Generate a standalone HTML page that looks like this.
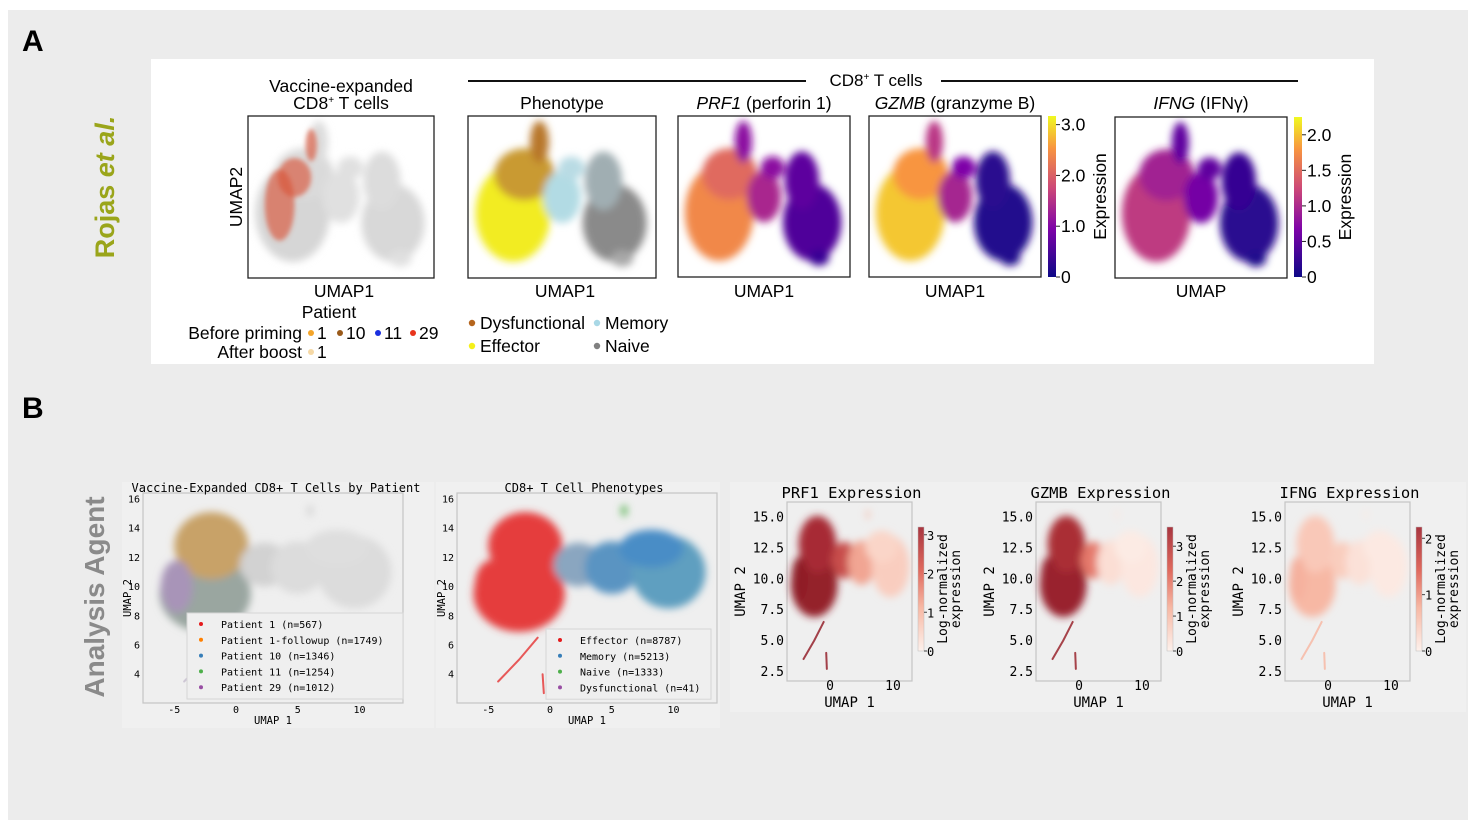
<!DOCTYPE html>
<html><head><meta charset="utf-8"><style>
html,body{margin:0;padding:0;background:#fff;}
svg{display:block;}
.sans{font-family:"Liberation Sans",sans-serif;}
.mono{font-family:"DejaVu Sans Mono","Liberation Mono",monospace;}
</style></head><body>
<svg id="fig" width="1472" height="824" viewBox="0 0 1472 824" xmlns="http://www.w3.org/2000/svg">
<defs>
<filter id="blur" x="-50%" y="-50%" width="200%" height="200%"><feGaussianBlur stdDeviation="4"/></filter>
<filter id="blurS" x="-50%" y="-50%" width="200%" height="200%"><feGaussianBlur stdDeviation="2.5"/></filter>
<linearGradient id="plasma" x1="0" y1="1" x2="0" y2="0">
<stop offset="0" stop-color="#0d0887"/><stop offset="0.3" stop-color="#7e03a8"/><stop offset="0.55" stop-color="#cc4778"/><stop offset="0.8" stop-color="#f89540"/><stop offset="1" stop-color="#f0f921"/></linearGradient>
<linearGradient id="reds" x1="0" y1="1" x2="0" y2="0">
<stop offset="0" stop-color="#fdf1ec"/><stop offset="0.35" stop-color="#f7b8a4"/><stop offset="0.65" stop-color="#e06a5e"/><stop offset="1" stop-color="#a8353f"/></linearGradient>
</defs>
<rect x="8" y="10" width="1460" height="810" fill="#ececec"/>
<rect x="151" y="59" width="1223" height="305" fill="#fff"/>
<text x="22" y="51" class="sans" font-size="30" font-weight="bold">A</text>
<text x="22" y="418" class="sans" font-size="30" font-weight="bold">B</text>
<text transform="translate(114,187) rotate(-90)" text-anchor="middle" class="sans" font-size="27" font-weight="bold" fill="#9aa51a">Rojas <tspan font-style="italic">et al.</tspan></text>
<text transform="translate(104,597) rotate(-90)" text-anchor="middle" class="sans" font-size="28" font-weight="bold" fill="#8a8a8a">Analysis Agent</text>
<rect x="122" y="482" width="312" height="246" fill="#f0f0f0"/>
<rect x="436" y="482" width="284" height="246" fill="#f0f0f0"/>
<rect x="730" y="482" width="736" height="230" fill="#f0f0f0"/>
<line x1="468" y1="81" x2="806" y2="81" stroke="#111" stroke-width="2"/>
<line x1="941" y1="81" x2="1298" y2="81" stroke="#111" stroke-width="2"/>
<text x="876" y="86" text-anchor="middle" class="sans" font-size="17">CD8<tspan font-size="10" dy="-6">+</tspan><tspan dy="6"> T cells</tspan></text>
<g id="layer"></g>
</svg>
<script>
// ---------- data ----------
const aShapeX = [0.24,0.30,0.38,0.50,0.55,0.78,0.72,0.82];
const aShapeY = [0.60,0.36,0.16,0.50,0.32,0.66,0.40,0.88];
const aShapeRX= [0.20,0.16,0.05,0.10,0.07,0.17,0.10,0.06];
const aShapeRY= [0.30,0.16,0.13,0.16,0.07,0.24,0.18,0.05];
const a1Colors = ['#d6d6d6','#dadada','#dcdcdc','#e0e0e0','#e0e0e0','#d8d8d8','#dcdcdc','#e0e0e0'];
const a2Colors = ['#f2ec20','#c99a30','#b8772a','#b2dbe4','#b9dbe4','#8a8a8a','#a0aeb2','#a8a8a8'];
const prf1Vals = [2.2,1.9,0.9,1.2,0.9,0.45,0.55,0.3];
const gzmbVals = [2.8,2.4,1.4,1.2,0.8,0.15,0.2,0.15];
const ifngVals = [1.0,0.8,0.4,0.5,0.4,0.15,0.2,0.1];
const a1Overlay = {x:[0.17,0.25,0.34], y:[0.55,0.38,0.18], rx:[0.08,0.09,0.03], ry:[0.22,0.12,0.1]};
const bShapeX = [-2.5,-2.0,-4.8,2.3,5.0,9.6,8.2,6.0];
const bShapeY = [9.5,12.8,10.0,11.5,11.3,11.0,12.6,15.2];
const bShapeRX= [3.7,3.0,1.3,2.0,2.2,3.0,2.6,0.25];
const bShapeRY= [2.6,2.3,1.8,1.5,1.8,2.5,1.3,0.4];
const b1Colors = ['#9aa6a0','#c8a268','#a894b8','#d2d2d2','#dcdcdc','#dcdcdc','#dedede','#d4d4d4'];
const b2Colors = ['#e53d3d','#e53d3d','#e53d3d','#8aa6c0','#5a94c2','#5f9fc0','#4a8dc6','#5fb65a'];
const bPrf1 = [3.0,2.6,3.1,2.0,1.0,0.5,0.4,0.8];
const bGzmb = [3.2,2.8,3.2,1.6,0.3,0.15,0.1,0.2];
const bIfng = [0.55,0.4,0.6,0.35,0.15,0.08,0.08,0.1];
const tailX = [-1.0,-2.5,-4.2]; const tailY=[6.5,5.0,3.5];
const spikeX = [-0.6,-0.5]; const spikeY=[4.0,2.7];
const b1Ticks=[-5,0,5,10], b1YTicks=[4,6,8,10,12,14,16];
const b3Ticks=[0,10], b3YTicks=[2.5,5.0,7.5,10.0,12.5,15.0];
const b1Legend=['Patient 1 (n=567)','Patient 1-followup (n=1749)','Patient 10 (n=1346)','Patient 11 (n=1254)','Patient 29 (n=1012)'];
const b1LegendColors=['#e41a1c','#ff7f00','#377eb8','#4daf4a','#984ea3'];
const b2Legend=['Effector (n=8787)','Memory (n=5213)','Naive (n=1333)','Dysfunctional (n=41)'];
const b2LegendColors=['#e41a1c','#377eb8','#4daf4a','#984ea3'];

const NS='http://www.w3.org/2000/svg';
const layer=document.getElementById('layer');
function mk(tag,attrs,parent){const e=document.createElementNS(NS,tag);for(const k in attrs)e.setAttribute(k,attrs[k]);(parent||layer).appendChild(e);return e;}
function txt(x,y,s,size,cls,anchor,parent){const t=mk('text',{x:x,y:y,'font-size':size,class:cls,'text-anchor':anchor||'middle'},parent);t.textContent=s;return t;}
function lerp(a,b,t){return a+(b-a)*t;}
function hex(c){return [parseInt(c.slice(1,3),16),parseInt(c.slice(3,5),16),parseInt(c.slice(5,7),16)];}
function cmap(stops,v){v=Math.max(0,Math.min(1,v));const n=stops.length-1;const i=Math.min(n-1,Math.floor(v*n));const t=v*n-i;const a=hex(stops[i]),b=hex(stops[i+1]);return 'rgb('+[0,1,2].map(k=>Math.round(lerp(a[k],b[k],t))).join(',')+')';}
const plasma=['#0d0887','#7e03a8','#cc4778','#f89540','#f0f921'];
const reds=['#fdf1ec','#f7b8a4','#e06a5e','#b03038','#8a1c26'];
const AF=17.5;

function panelA(bx,by,bw,bh,colors,name){
  const g=mk('g',{});
  
  
  mk('rect',{x:bx,y:by,width:bw,height:bh,fill:'#fff'},g);
  const sx=v=>bx+v*bw, sy=v=>by+v*bh;
  const bg=mk('g',{filter:'url(#blur)'},g);
  for(let i=0;i<aShapeX.length;i++){
    const el=mk('ellipse',{cx:sx(aShapeX[i]),cy:sy(aShapeY[i]),rx:aShapeRX[i]*bw,ry:aShapeRY[i]*bh,fill:colors[i]},bg);
    
    
  }
  mk('rect',{x:bx,y:by,width:bw,height:bh,fill:'none',stroke:'#222','stroke-width':1.3},g);
  return {g,sx,sy};
}
const a1=panelA(248,116,186,162,a1Colors,'a1-patient-umap');
const ov=mk('g',{filter:'url(#blurS)'},a1.g);
for(let i=0;i<a1Overlay.x.length;i++){
  const el=mk('ellipse',{cx:a1.sx(a1Overlay.x[i]),cy:a1.sy(a1Overlay.y[i]),rx:a1Overlay.rx[i]*186,ry:a1Overlay.ry[i]*162,fill:'#d9553a',opacity:0.65},ov);
  
  
}
panelA(468,116,188,162,a2Colors,'a2-phenotype-umap');
panelA(678,116,172,161,prf1Vals.map(v=>cmap(plasma,v/3.1)),'a3-prf1-umap');
panelA(869,116,172,161,gzmbVals.map(v=>cmap(plasma,v/3.2)),'a4-gzmb-umap');
panelA(1115,117,172,161,ifngVals.map(v=>cmap(plasma,v/2.2)),'a5-ifng-umap');

txt(341,92,'Vaccine-expanded',AF,'sans');
const t2=txt(341,109,'',AF,'sans'); t2.innerHTML='CD8<tspan font-size="10" dy="-6">+</tspan><tspan dy="6"> T cells</tspan>';


txt(562,109,'Phenotype',AF,'sans');
const t3=txt(764,109,'',AF,'sans');t3.innerHTML='<tspan font-style="italic">PRF1</tspan> (perforin 1)';
const t4=txt(955,109,'',AF,'sans');t4.innerHTML='<tspan font-style="italic">GZMB</tspan> (granzyme B)';
const t5=txt(1201,109,'',AF,'sans');t5.innerHTML='<tspan font-style="italic">IFNG</tspan> (IFNγ)';
const ua=mk('text',{transform:'translate(242,197) rotate(-90)','text-anchor':'middle','font-size':AF,class:'sans'});ua.textContent='UMAP2';


[[344,'UMAP1'],[565,'UMAP1'],[764,'UMAP1'],[955,'UMAP1'],[1201,'UMAP']].forEach(p=>{const t=txt(p[0],297,p[1],AF,'sans');});
function cbarA(x,top,bot,ticks,max,labX,name){
  const g=mk('g',{});
  
  
  mk('rect',{x:x,y:top,width:8,height:bot-top,fill:'url(#plasma)'},g);
  ticks.forEach(v=>{const y=bot-(v/max)*(bot-top);mk('line',{x1:x+8,x2:x+12,y1:y,y2:y,stroke:'#222'},g);txt(x+13,y+6,v===0?'0':v.toFixed(1),AF,'sans','start',g);});
  const l=mk('text',{transform:'translate('+labX+','+((top+bot)/2)+') rotate(-90)','text-anchor':'middle','font-size':AF,class:'sans'},g);l.textContent='Expression';
}
cbarA(1048,116,277,[0,1,2,3],3.17,1106,'a4-colorbar');
cbarA(1294,117,277,[0,0.5,1,1.5,2],2.25,1351,'a5-colorbar');
txt(329,318,'Patient',AF,'sans');
txt(302,339,'Before priming',AF,'sans','end');
txt(302,358,'After boost',AF,'sans','end');
[[311,'#f4a52a','1'],[340,'#9a5a1a','10'],[378,'#1a2fe0','11'],[413,'#e8341c','29']].forEach(p=>{
  const c=mk('circle',{cx:p[0],cy:333,r:3,fill:p[1]});
  
  
  txt(p[0]+6,339,p[2],AF,'sans','start');});
mk('circle',{cx:311,cy:352,r:3,fill:'#f6d9a6'});txt(317,358,'1',AF,'sans','start');
[[472,323,'#b5651d','Dysfunctional'],[597,323,'#a9d8e6','Memory'],[472,346,'#f5f01a','Effector'],[597,346,'#808080','Naive']].forEach(p=>{
  const c=mk('circle',{cx:p[0],cy:p[1],r:3.2,fill:p[2]});
  
  
  txt(p[0]+8,p[1]+6,p[3],AF,'sans','start');});

function panelB(opt){
  const g=mk('g',{});
  
  
  const sx=v=>opt.x0+(v-opt.xa)*opt.kx, sy=v=>opt.y0-(v-opt.ya)*opt.ky;
  mk('rect',{x:opt.L,y:opt.T,width:opt.W,height:opt.H,fill:'#efefef',stroke:'#c4c4c4','stroke-width':1.2},g);
  const bg=mk('g',{filter:'url(#blur)'},g);
  for(let i=0;i<bShapeX.length;i++){
    const el=mk('ellipse',{cx:sx(bShapeX[i]),cy:sy(bShapeY[i]),rx:bShapeRX[i]*opt.kx,ry:bShapeRY[i]*opt.ky,fill:opt.colors[i]},bg);
    
    
  }
  const tp=tailX.map((v,i)=>sx(v)+','+sy(tailY[i])).join(' ');
  mk('polyline',{points:tp,fill:'none',stroke:opt.tail,'stroke-width':2,'stroke-linecap':'round',opacity:0.85},g);
  mk('polyline',{points:spikeX.map((v,i)=>sx(v)+','+sy(spikeY[i])).join(' '),fill:'none',stroke:opt.tail,'stroke-width':2,'stroke-linecap':'round',opacity:0.85},g);
  opt.xt.forEach(v=>{const t=txt(sx(v),opt.T+opt.H+opt.xty,String(v),opt.fs,'mono','middle',g);});
  opt.yt.forEach(v=>{const t=txt(opt.L-3,sy(v)+opt.fs*0.35,opt.dec?v.toFixed(1):String(v),opt.fs,'mono','end',g);});
  txt(opt.L+opt.W/2+opt.tdx,opt.T-opt.tdy,opt.title,opt.tfs,'mono','middle',g);
  txt(opt.L+opt.W/2,opt.xly,'UMAP 1',opt.lfs,'mono','middle',g);
  const yl=mk('text',{transform:'translate('+opt.ylx+','+(opt.T+opt.H/2)+') rotate(-90)','text-anchor':'middle','font-size':opt.lfs,class:'mono'},g);yl.textContent='UMAP 2';
  return {g,sx,sy};
}
panelB({name:'b1-patient-umap',L:143,T:493,W:260,H:210,x0:236,xa:0,kx:12.35,y0:499,ya:16,ky:14.6,colors:b1Colors,tail:'#c8c0d0',xt:b1Ticks,yt:b1YTicks,fs:10,xty:10,title:'Vaccine-Expanded CD8+ T Cells by Patient',tfs:12,tdx:3,tdy:1,lfs:10.5,xly:724,ylx:131});
panelB({name:'b2-phenotype-umap',L:457,T:493,W:260,H:210,x0:550,xa:0,kx:12.35,y0:499,ya:16,ky:14.6,colors:b2Colors,tail:'#e53d3d',xt:b1Ticks,yt:b1YTicks,fs:10,xty:10,title:'CD8+ T Cell Phenotypes',tfs:12,tdx:-3,tdy:1,lfs:10.5,xly:724,ylx:445});
function legendB(x,y,w,items,colors,name){
  const g=mk('g',{});
  
  
  mk('rect',{x:x,y:y,width:w,height:items.length*15.8+7,fill:'#efefef',stroke:'#d6d6d6'},g);
  items.forEach((s,i)=>{const c=mk('circle',{cx:x+14,cy:y+11+i*15.8,r:2,fill:colors[i]},g);
    
    
    txt(x+34,y+15+i*15.8,s,10,'mono','start',g);});
}
legendB(187,613,216,b1Legend,b1LegendColors,'b1-legend');
legendB(546,629,165,b2Legend,b2LegendColors,'b2-legend');
function exprPanel(off,vals,max,ticks,title,name){
  panelB({name:name,L:787+off,T:502,W:125,H:179,x0:830+off,xa:0,kx:6.3,y0:517,ya:15,ky:12.35,colors:vals.map(v=>cmap(reds,v/max)),tail:cmap(reds,vals[0]/max),xt:b3Ticks,yt:b3YTicks,fs:13,xty:9,dec:true,title:title,tfs:15.5,tdx:2,tdy:4,lfs:14,xly:707,ylx:745+off});
  const g=mk('g',{});
  
  
  const top=527,bot=651,x=918+off;
  mk('rect',{x:x,y:top,width:6,height:bot-top,fill:'url(#reds)',stroke:'#bbb','stroke-width':0.5},g);
  ticks.forEach(v=>{const y=bot-(v/max)*(bot-top);mk('line',{x1:x+6,x2:x+9,y1:y,y2:y,stroke:'#444'},g);txt(x+9,y+5,String(v),12,'mono','start',g);});
  const l=mk('text',{transform:'translate('+(x+29)+','+((top+bot)/2)+') rotate(-90)','text-anchor':'middle','font-size':13,class:'mono'},g);l.textContent='Log-normalized';
  const l2=mk('text',{transform:'translate('+(x+42)+','+((top+bot)/2)+') rotate(-90)','text-anchor':'middle','font-size':13,class:'mono'},g);l2.textContent='expression';
}
exprPanel(0,bPrf1,3.2,[0,1,2,3],'PRF1 Expression','b3-prf1-umap');
exprPanel(249,bGzmb,3.55,[0,1,2,3],'GZMB Expression','b4-gzmb-umap');
exprPanel(498,bIfng,2.2,[0,1,2],'IFNG Expression','b5-ifng-umap');
</script>
</body></html>
